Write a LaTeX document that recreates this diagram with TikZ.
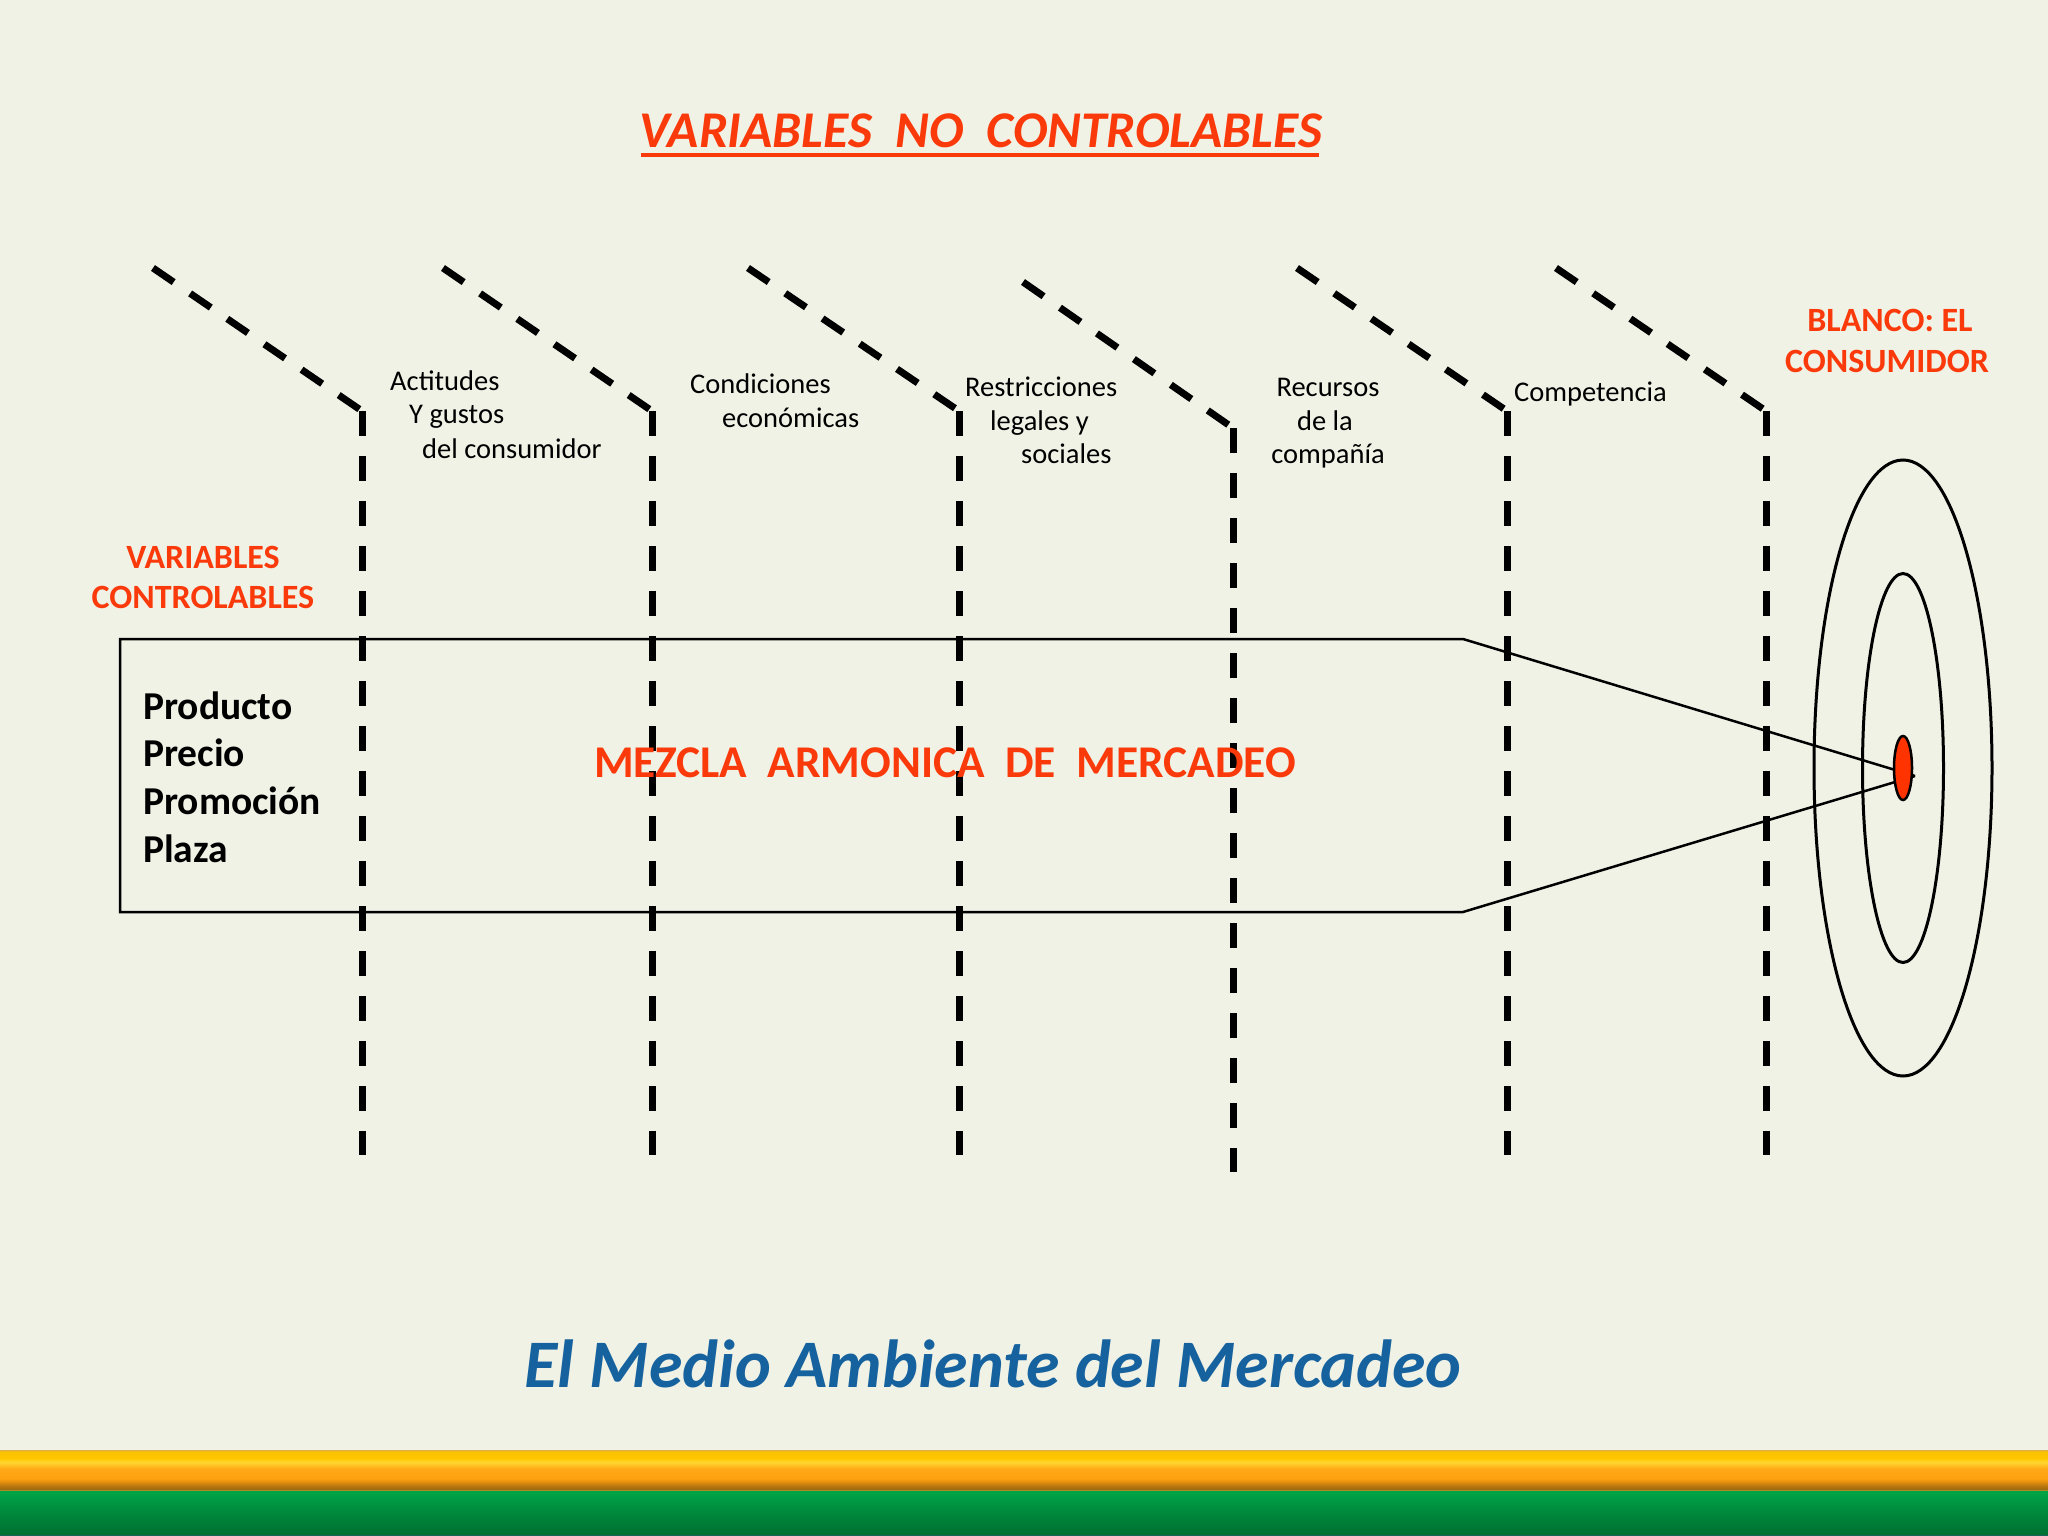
\documentclass[tikz,border=0pt]{standalone}
\usepackage{fontspec}
\setmainfont{Carlito}
\definecolor{bg}{RGB}{240,242,230}
\definecolor{orng}{RGB}{250,58,10}
\definecolor{titleblue}{RGB}{22,98,158}
\definecolor{redtarget}{RGB}{255,51,0}
\pgfdeclareverticalshading{orangebar}{100bp}{%
  rgb(0bp)=(0.85,0.72,0.25);
  rgb(25bp)=(0.85,0.72,0.25);
  rgb(27bp)=(0.60,0.42,0.06);
  rgb(32bp)=(0.75,0.48,0.06);
  rgb(40bp)=(1.0,0.63,0.06);
  rgb(52bp)=(1.0,0.66,0.09);
  rgb(60bp)=(1.0,0.84,0.19);
  rgb(65bp)=(1.0,0.78,0.0);
  rgb(73bp)=(1.0,0.76,0.0);
  rgb(75bp)=(0.88,0.69,0.25);
  rgb(100bp)=(0.88,0.69,0.25)}
\pgfdeclareverticalshading{greenbar}{100bp}{%
  rgb(0bp)=(0.23,0.35,0.54);
  rgb(25bp)=(0.23,0.35,0.54);
  rgb(27bp)=(0.0,0.44,0.20);
  rgb(50bp)=(0.0,0.53,0.23);
  rgb(75bp)=(0.0,0.65,0.28);
  rgb(100bp)=(0.0,0.65,0.28)}
\begin{document}
\begin{tikzpicture}[x=1pt,y=-1pt,
  dline/.style={line width=7pt, dash pattern=on 25pt off 20pt},
  lbl/.style={inner sep=0pt, anchor=base west, font=\fontsize{28.5}{34}\selectfont},
  ctrl/.style={inner sep=0pt, anchor=base west, font=\fontsize{39.5}{46}\selectfont\bfseries},
  orlbl/.style={inner sep=0pt, anchor=base, text=orng, font=\fontsize{34}{40}\selectfont\bfseries},
  ring/.style={draw=black, line width=3pt}]
\fill[bg] (0,0) rectangle (2048,1536);
\useasboundingbox (0,0) rectangle (2048,1536);

% title
\node[inner sep=0pt, anchor=base, text=orng, font=\fontsize{51.5}{60}\selectfont\bfseries\itshape] (title) at (981,148) {VARIABLES\ \ NO\ \ CONTROLABLES};
\coordinate (ulA) at (641,155);
\coordinate (ulB) at (1319,155);
\draw[orng, line width=4.7pt] (ulA) -- (ulB);

% dashed boundary lines
\foreach \n/\ax/\ay/\bx/\by/\cy in {1/153/268/362/411/1155, 2/443/268/652/411/1155, 3/748/268/959/411/1155, 4/1023/282/1233/428/1172, 5/1297/268/1507/411/1155, 6/1556/268/1766/411/1155}{
  \coordinate (t\n) at (\ax,\ay);
  \coordinate (k\n) at (\bx,\by);
  \coordinate (b\n) at (\bx,\cy);
  \draw[dline] (t\n) -- (k\n);
  \draw[dline] (k\n) -- (b\n);
}

% uncontrollable variable labels
\node[lbl] (act1) at (390,390) {Actitudes};
\node[lbl] (act2) at (409,423) {Y gustos};
\node[lbl] (act3) at (422,458) {del consumidor};
\node[lbl] (con1) at (690,393) {Condiciones};
\node[lbl] (con2) at (722,427) {económicas};
\node[lbl] (res1) at (965,396) {Restricciones};
\node[lbl] (res2) at (990,430) {legales y};
\node[lbl] (res3) at (1021,463) {sociales};
\node[lbl, anchor=base] (rec1) at (1328,396) {Recursos};
\node[lbl, anchor=base] (rec2) at (1325,430) {de la};
\node[lbl, anchor=base] (rec3) at (1328,463) {compañía};
\node[lbl] (comp) at (1514,401) {Competencia};

% controllable label
\node[orlbl] (vc1) at (203,568) {VARIABLES};
\node[orlbl] (vc2) at (203,608) {CONTROLABLES};

% target label
\node[orlbl] (bl1) at (1890,331) {BLANCO: EL};
\node[orlbl] (bl2) at (1887,372) {CONSUMIDOR};

% target rings
\coordinate (tc) at (1903,768);
\draw[ring] (tc) ellipse [x radius=89, y radius=308];
\draw[ring] (tc) ellipse [x radius=40.5, y radius=194.5];

% marketing mix arrow
\coordinate (boxTL) at (120,639);
\coordinate (boxTR) at (1463,639);
\coordinate (boxBR) at (1463,912);
\coordinate (boxBL) at (120,912);
\coordinate (tip) at (1915,776);
\draw[line width=2.5pt, line join=miter] (tip) -- (boxTR) -- (boxTL) -- (boxBL) -- (boxBR) -- (tip);
\fill[redtarget, draw=black, line width=2.5pt] (tc) ellipse [x radius=9, y radius=32];

\node[ctrl] (p1) at (143,719) {Producto};
\node[ctrl] (p2) at (143,766) {Precio};
\node[ctrl] (p3) at (143,814) {Promoción};
\node[ctrl] (p4) at (143,862) {Plaza};

\node[inner sep=0pt, anchor=base, text=orng, font=\fontsize{45.4}{52}\selectfont\bfseries] (mix) at (945,777) {MEZCLA\ \ ARMONICA\ \ DE\ \ MERCADEO};

% bottom title
\node[inner sep=0pt, anchor=base, text=titleblue, font=\fontsize{68}{76}\selectfont\bfseries\itshape] (bottom) at (993,1387) {El Medio Ambiente del Mercadeo};

% bottom bars
\shade[shading=orangebar] (0,1450) rectangle (2048,1491);
\shade[shading=greenbar] (0,1491) rectangle (2048,1536);
\end{tikzpicture}
\end{document}
